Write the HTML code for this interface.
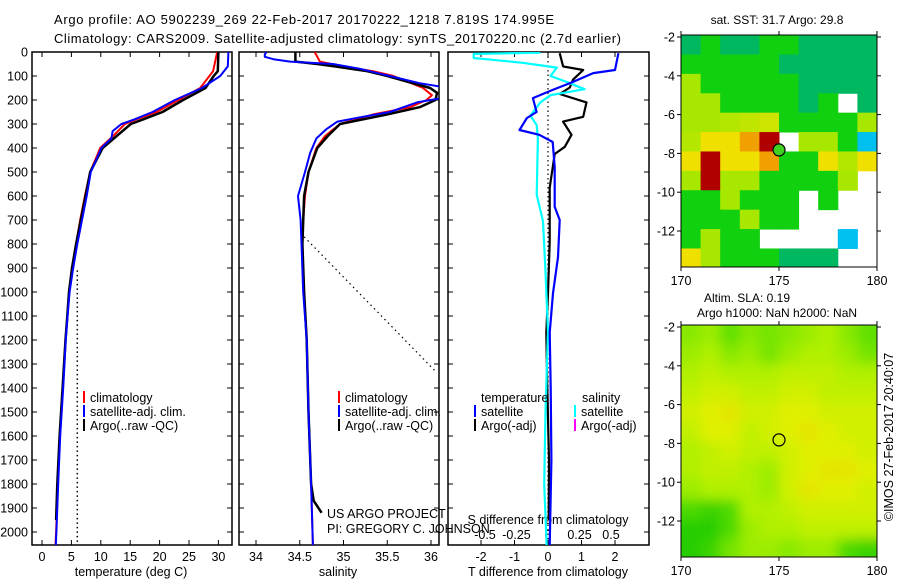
<!DOCTYPE html>
<html><head><meta charset="utf-8"><style>
body{margin:0;background:#fff;}
svg{display:block;font-family:"Liberation Sans",sans-serif;}
</style></head><body>
<svg id="fig" width="900" height="580" viewBox="0 0 900 580" xmlns="http://www.w3.org/2000/svg">
<rect width="900" height="580" fill="#fff"/>
<text x="54" y="24" font-size="13" textLength="500">Argo profile: AO 5902239_269 22-Feb-2017 20170222_1218 7.819S 174.995E</text>
<text x="54" y="43" font-size="13" textLength="567">Climatology: CARS2009. Satellite-adjusted climatology: synTS_20170220.nc (2.7d earlier)</text>
<defs>
<clipPath id="c1"><rect x="32" y="52" width="200" height="493"/></clipPath>
<clipPath id="c2"><rect x="239" y="52" width="200" height="493"/></clipPath>
<clipPath id="c3"><rect x="448" y="52" width="201" height="493"/></clipPath>
<clipPath id="cm2"><rect x="681" y="325" width="196" height="232"/></clipPath>
<filter id="blur" x="-5%" y="-5%" width="110%" height="110%"><feGaussianBlur stdDeviation="6"/></filter>
</defs>
<g id="layer"></g>
</svg>
<script>
// ---------- data ----------
const depthTicks=[0,100,200,300,400,500,600,700,800,900,1000,1100,1200,1300,1400,1500,1600,1700,1800,1900,2000];
const tempTicks=[0,5,10,15,20,25,30];
const salTicks=[34,34.5,35,35.5,36];
const tdiffTicks=[-2,-1,0,1,2];
const sdiffTicks=[-0.5,-0.25,0,0.25,0.5];
const sdiffTickLabels=["-0.5","-0.25","0","0.25","0.5"];

const climTdep=[0,80,150,200,250,280,300,350,400,500,600,700,800,900,1000,1100,1200,1400,1600,1800,2000,2055];
const climTval=[29.8,29.1,26.9,23.2,19.5,16.1,14.1,12.1,9.9,8.2,7.3,6.5,5.8,5.1,4.6,4.3,4.0,3.5,3.0,2.7,2.4,2.3];
const satTdep=[0,60,100,150,200,250,280,300,330,360,400,500,600,700,800,900,1000,1100,1200,1400,1600,1800,2000,2055];
const satTval=[31.7,31.6,30.3,27.2,22.6,18.8,15.8,13.5,12.0,11.8,10.1,8.3,7.6,6.8,6.0,5.3,4.7,4.35,4.05,3.6,3.1,2.75,2.45,2.35];
const argoTdep=[0,80,100,150,200,250,280,300,350,400,500,600,700,800,900,1000,1100,1200,1400,1600,1800,1950];
const argoTval=[30.0,29.9,29.2,27.8,24.0,20.5,17.3,15.1,12.7,10.3,8.2,7.4,6.6,5.8,5.1,4.6,4.3,4.0,3.5,3.0,2.6,2.4];
const refTdep=[910,2055];
const refTval=[6.0,6.0];

const climSdep=[0,20,40,60,80,100,150,180,200,230,260,300,350,400,500,600,700,800,1000,1200,1500,1800,2055];
const climSval=[34.67,34.7,34.73,35.0,35.34,35.57,35.91,36.01,35.95,35.76,35.34,34.96,34.79,34.69,34.6,34.56,34.54,34.53,34.55,34.58,34.6,34.63,34.65];
const satSdep=[0,10,20,30,40,50,70,100,130,150,180,190,210,250,270,290,320,360,420,500,600,700,800,1000,1200,1500,1800,2055];
const satSval=[34.12,34.1,34.1,34.2,34.39,34.88,35.19,35.53,35.87,36.2,36.2,36.15,35.84,35.53,35.22,34.93,34.81,34.69,34.62,34.56,34.48,34.51,34.52,34.54,34.58,34.6,34.63,34.65];
const argoSdep=[0,40,50,60,80,100,150,170,200,230,260,300,350,400,500,600,800,1000,1200,1500,1800,1870,1920];
const argoSval=[34.45,34.45,34.7,34.9,35.27,35.5,35.99,36.07,36.05,35.87,35.5,34.96,34.82,34.7,34.6,34.55,34.53,34.55,34.58,34.6,34.63,34.66,34.75];
const jumpSdep=[770,1330];
const jumpSval=[34.55,36.05];

const satDTdep=[5,75,88,125,158,192,250,275,325,345,375,480,645,700,855,1005,1170,1400,1700,2055];
const satDTval=[2.1,2.0,1.35,0.74,0.14,-0.45,-0.34,-0.63,-0.85,-0.26,0.14,0.2,0.2,0.35,0.3,0.15,0.05,0.08,0.1,0.05];
const argoDTdep=[5,60,75,115,148,175,210,270,290,345,395,425,565,790,1005,1170,1400,1700,1950];
const argoDTval=[0.35,0.45,1.05,0.75,0.65,0.35,1.15,1.05,0.45,0.7,0.5,0.2,0.05,0.05,0.0,-0.05,-0.02,0.03,0.02];
const satDSdep=[3,8,25,45,65,100,125,155,180,210,265,305,360,595,705,915,1165,1500,1800,2055];
const satDSval=[-0.06,-0.59,-0.59,-0.2,0.07,0.02,0.15,0.29,0.02,-0.06,-0.14,-0.09,-0.08,-0.09,-0.04,-0.02,0,-0.02,-0.03,-0.01];

const mapLatTicks=[-2,-4,-6,-8,-10,-12];
const mapLonTicks=[170,175,180];
const sstGrid=[
[29.0,29.5,29.0,29.0,29.5,29.5,29.0,29.0,29.0,29.0],
[29.5,29.5,29.5,29.5,29.5,29.0,29.0,29.0,29.0,29.0],
[30.2,29.5,29.5,29.5,29.5,29.5,29.0,29.0,29.0,29.0],
[30.2,30.2,29.5,29.5,29.5,29.5,29.0,29.5,null,29.0],
[30.2,30.2,30.3,30.4,30.5,29.5,29.5,29.5,29.5,30.2],
[30.3,30.8,30.8,31.3,32.0,null,30.2,30.2,29.5,28.3],
[30.8,32.0,30.8,30.8,31.3,29.5,29.5,30.8,30.3,30.8],
[30.2,32.0,30.2,30.2,29.5,29.5,29.5,29.5,30.2,null],
[29.5,29.5,30.2,29.5,29.5,29.5,null,29.5,null,null],
[29.5,29.5,29.5,30.2,29.5,29.5,null,null,null,null],
[29.5,30.2,29.5,29.5,null,null,null,null,28.3,null],
[30.8,30.2,29.5,29.5,29.5,29.0,29.0,29.0,null,null]];
const slaGrid=[
[0.15,0.16,0.13,0.15,0.14,0.15,0.16,0.17,0.15,0.13],
[0.16,0.17,0.15,0.16,0.14,0.16,0.17,0.17,0.16,0.14],
[0.17,0.18,0.17,0.17,0.17,0.18,0.18,0.18,0.17,0.17],
[0.18,0.19,0.19,0.18,0.18,0.19,0.19,0.18,0.18,0.18],
[0.19,0.20,0.21,0.19,0.19,0.20,0.20,0.19,0.19,0.19],
[0.18,0.20,0.20,0.18,0.19,0.20,0.21,0.20,0.19,0.19],
[0.17,0.18,0.19,0.18,0.18,0.19,0.20,0.20,0.20,0.19],
[0.17,0.18,0.18,0.17,0.16,0.19,0.20,0.21,0.21,0.20],
[0.16,0.17,0.17,0.17,0.16,0.19,0.21,0.20,0.20,0.19],
[0.12,0.11,0.12,0.17,0.17,0.18,0.19,0.19,0.19,0.19],
[0.10,0.10,0.12,0.16,0.17,0.17,0.18,0.18,0.18,0.18],
[0.10,0.11,0.14,0.16,0.16,0.15,0.16,0.16,0.12,0.11]];
const argoLon=175.0, argoLat=-7.82;

// ---------- scales ----------
const NS="http://www.w3.org/2000/svg";
const layer=document.getElementById('layer');
const Y0=52, YB=545;
const yD=d=>Y0+d*0.24;
const xT=t=>42+t*5.88;
const xS=s=>256+(s-34)*87.5;
const xDT=v=>548+v*33.5;
const xDS=v=>548+v*126;
const M1={x0:681,x1:877,y0:35,y1:267};
const M2={x0:681,x1:877,y0:325,y1:557};
const lonX=(m,lon)=>m.x0+(lon-170)/10*(m.x1-m.x0);
const latY=(m,lat)=>37+(m.y0-35)+(-2-lat)*19.4;

function mk(tag,attrs,parent){const e=document.createElementNS(NS,tag);for(const k in attrs)e.setAttribute(k,attrs[k]);(parent||layer).appendChild(e);return e;}
function txt(s,attrs,parent){const e=mk('text',attrs,parent);e.textContent=s;return e;}

const panels=[{x0:32,x1:232,clip:'c1',name:'temperature'},{x0:239,x1:439,clip:'c2',name:'salinity'},{x0:448,x1:649,clip:'c3',name:'difference'}];
panels.forEach(p=>{
  const r=mk('rect',{x:p.x0,y:Y0,width:p.x1-p.x0,height:YB-Y0,fill:'none',stroke:'#000','stroke-width':1.5});
  
  
  depthTicks.forEach(d=>{
    const t1=mk('line',{x1:p.x0,x2:p.x0+5,y1:yD(d),y2:yD(d),stroke:'#000'});
    
    
    const t2=mk('line',{x1:p.x1,x2:p.x1-5,y1:yD(d),y2:yD(d),stroke:'#000'});
    
    
  });
});
depthTicks.forEach(d=>{
  const l=txt(String(d),{x:28,y:yD(d)+4.5,'font-size':12.5,'text-anchor':'end'});
  
  
});
function xTicks(vals,labels,fx,ylab){
  vals.forEach((v,i)=>{
    const a=mk('line',{x1:fx(v),x2:fx(v),y1:YB,y2:YB-5,stroke:'#000'});
    
    
    const b=mk('line',{x1:fx(v),x2:fx(v),y1:Y0,y2:Y0+5,stroke:'#000'});
    
    
    const l=txt(labels[i],{x:fx(v),y:ylab,'font-size':12.5,'text-anchor':'middle'});
    
    
  });
}
xTicks(tempTicks,tempTicks.map(String),xT,561);
xTicks(salTicks,salTicks.map(String),xS,561);
xTicks(tdiffTicks,tdiffTicks.map(String),xDT,561);
sdiffTicks.forEach((v,i)=>{
  const l=txt(sdiffTickLabels[i],{x:xDS(v),y:539,'font-size':12.5,'text-anchor':'middle'});
  
  
});
const ax1=txt('temperature (deg C)',{x:131,y:576,'font-size':12.5,'text-anchor':'middle'});


const ax2=txt('salinity',{x:338,y:576,'font-size':12.5,'text-anchor':'middle'});


const ax3=txt('T difference from climatology',{x:548,y:576,'font-size':12.5,'text-anchor':'middle'});


const ax4=txt('S difference from climatology',{x:548,y:524,'font-size':12.5,'text-anchor':'middle'});



function series(deps,vals,fx,color,w,clip,dash){
  const pts=deps.map((d,i)=>fx(vals[i]).toFixed(1)+','+yD(d).toFixed(1)).join(' ');
  const a={points:pts,fill:'none',stroke:color,'stroke-width':w,'clip-path':'url(#'+clip+')','stroke-linejoin':'round'};
  if(dash)a['stroke-dasharray']=dash;
  return mk('polyline',a);
}
let s;
s=series(refTdep,refTval,xT,'#000',1.5,'c1','1.5 3');


s=series(climTdep,climTval,xT,'#f00',2,'c1');


s=series(argoTdep,argoTval,xT,'#000',2.5,'c1');


s=series(satTdep,satTval,xT,'#00f',2,'c1');



s=mk('line',{x1:xS(jumpSval[0]),y1:yD(jumpSdep[0]),x2:xS(jumpSval[1]),y2:yD(jumpSdep[1]),stroke:'#000','stroke-width':1.2,'stroke-dasharray':'1.5 3.5'});


s=series(climSdep,climSval,xS,'#f00',2,'c2');


s=series(argoSdep,argoSval,xS,'#000',2.5,'c2');


s=series(satSdep,satSval,xS,'#00f',2,'c2');



s=mk('line',{x1:xDT(0),x2:xDT(0),y1:Y0,y2:YB,stroke:'#000','stroke-width':1.2,'stroke-dasharray':'1.5 3'});


s=series(argoDTdep,argoDTval,xDT,'#000',2.2,'c3');


s=series(satDSdep,satDSval,xDS,'#0ff',2.2,'c3');


s=series(satDTdep,satDTval,xDT,'#00f',2.2,'c3');



function legendRow(x,y,color,label){
  const b=mk('rect',{x:x,y:y-11,width:2,height:12,fill:color});
  
  
  const t=txt(label,{x:x+7,y:y,'font-size':12.5});
  
  
}
legendRow(83,402,'#f00','climatology');legendRow(83,416,'#00f','satellite-adj. clim.');legendRow(83,430,'#000','Argo(..raw -QC)');
legendRow(338,402,'#f00','climatology');legendRow(338,416,'#00f','satellite-adj. clim.');legendRow(338,430,'#000','Argo(..raw -QC)');
let lt=txt('temperature',{x:481,y:402,'font-size':12.5});


lt=txt('salinity',{x:582,y:402,'font-size':12.5});


legendRow(474,416,'#00f','satellite');legendRow(474,430,'#000','Argo(-adj)');
legendRow(574,416,'#0ff','satellite');legendRow(574,430,'#f0f','Argo(-adj)');
lt=txt('US ARGO PROJECT',{x:327,y:518,'font-size':12.5});


lt=txt('PI: GREGORY C. JOHNSON',{x:327,y:533,'font-size':12.5});



// ---------- maps ----------
function lerpColor(stops,v){
  if(v<=stops[0][0])return stops[0][1];
  for(let i=1;i<stops.length;i++){if(v<=stops[i][0]){const a=stops[i-1],b=stops[i];const t=(v-a[0])/(b[0]-a[0]);
    const ca=a[1].match(/\w\w/g).map(h=>parseInt(h,16)),cb=b[1].match(/\w\w/g).map(h=>parseInt(h,16));
    return '#'+ca.map((c,k)=>Math.round(c+(cb[k]-c)*t).toString(16).padStart(2,'0')).join('');}}
  return stops[stops.length-1][1];
}
const sstStops=[[28.3,'#00c0f0'],[29.0,'#00b860'],[29.5,'#10d010'],[30.2,'#a8e800'],[30.8,'#f0e000'],[31.3,'#f0a000'],[32.0,'#b00000']];
const slaStops=[[0.08,'#00c000'],[0.13,'#60e000'],[0.17,'#b0f000'],[0.20,'#e0f000'],[0.23,'#f0d000']];
function drawMap(m,grid,stops,name,fill,smooth){
  let g=layer;
  if(smooth){
    const outer=mk('g',{'clip-path':'url(#cm2)'});
    
    
    g=mk('g',{filter:'url(#blur)'},outer);
    
    
  }
  grid.forEach((row,r)=>row.forEach((v,c)=>{
    if(v===null)return;
    let x=lonX(m,170+c),y=latY(m,-2-r)-19.4*0.1;
    let w=(m.x1-m.x0)/10+0.5;
    let top=Math.max(m.y0,y), bot=Math.min(m.y1,latY(m,-3-r)-19.4*0.1);
    if(smooth){ if(c===0){x-=12;w+=12;} if(c===row.length-1){w+=12;} if(r===0){top-=12;} if(r===grid.length-1){bot+=12;} }
    const cell=mk('rect',{x:x,y:top,width:w,height:bot-top+0.5,fill:lerpColor(stops,v)},g);
    
    
  }));
  const f=mk('rect',{x:m.x0,y:m.y0,width:m.x1-m.x0,height:m.y1-m.y0,fill:'none',stroke:'#000','stroke-width':1});
  
  
  mapLatTicks.forEach(l=>{
    const y=latY(m,l);
    const a=mk('line',{x1:m.x0-4,x2:m.x0,y1:y,y2:y,stroke:'#000'});
    
    
    const b=mk('line',{x1:m.x1,x2:m.x1+4,y1:y,y2:y,stroke:'#000'});
    
    
    const t=txt(String(l),{x:m.x0-6,y:y+4.5,'font-size':12.5,'text-anchor':'end'});
    
    
  });
  mapLonTicks.forEach(l=>{
    const x=lonX(m,l);
    const a=mk('line',{x1:x,x2:x,y1:m.y1,y2:m.y1+4,stroke:'#000'});
    
    
    const b=mk('line',{x1:x,x2:x,y1:m.y0-4,y2:m.y0,stroke:'#000'});
    
    
    const t=txt(String(l),{x:x,y:m.y1+18,'font-size':12.5,'text-anchor':'middle'});
    
    
  });
  const c=mk('circle',{cx:lonX(m,argoLon),cy:latY(m,argoLat),r:6,fill:fill,stroke:'#000','stroke-width':1.2});
  
  
}
drawMap(M1,sstGrid,sstStops,'sst','#40d020',false);
drawMap(M2,slaGrid,slaStops,'sla','none',true);
lt=txt('sat. SST: 31.7 Argo: 29.8',{x:777,y:24,'font-size':12,'text-anchor':'middle'});


lt=txt('Altim. SLA: 0.19',{x:747,y:302,'font-size':12,'text-anchor':'middle'});


lt=txt('Argo h1000: NaN h2000: NaN',{x:777,y:317,'font-size':12,'text-anchor':'middle'});


lt=txt('©IMOS 27-Feb-2017 20:40:07',{x:0,y:0,'font-size':12.5,'text-anchor':'middle',transform:'translate(893,437) rotate(-90)'});


</script>
</body></html>
